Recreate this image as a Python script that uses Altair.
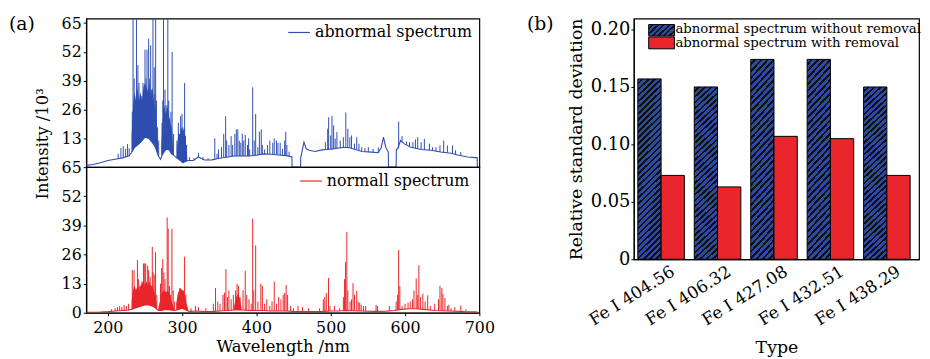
import altair as alt
import pandas as pd

# ---------------- panel (a) data (wavelength nm, intensity 10^3) ----------------
wave_ticks = [200, 300, 400, 500, 600, 700]
int_ticks_top = [13, 26, 39, 52, 65]
int_ticks_bottom = [0, 13, 26, 39, 52, 65]

abn_baseline = [
    (171, 0.8), (180, 1.2), (190, 2.0), (200, 3.0), (210, 3.6), (220, 4.2), (228, 5.0),
    (232, 6.5), (236, 9), (240, 10), (245, 11.5), (250, 13.5), (255, 13), (260, 11),
    (264, 9), (268, 5), (271, 3.5), (274, 6), (278, 8), (282, 8), (286, 6), (290, 5),
    (294, 4), (298, 3), (301, 2), (304, 2.5), (308, 3), (315, 3), (322, 4.6), (330, 3.2),
    (340, 3.3), (350, 4), (360, 4.5), (370, 5), (380, 5), (390, 5), (400, 5.4), (410, 6),
    (420, 5.8), (430, 5.5), (440, 5.2), (447.8, 4.6), (448, 0), (459.4, 0), (459.6, 4.2),
    (464, 11.3), (467, 8.3), (471, 7.6), (479, 7.1), (488, 7.8), (495, 8), (505, 8.3),
    (515, 8.9), (524, 8.9), (530, 8.3), (542, 7.1), (555, 6.8), (564, 6.5), (568, 8.9),
    (571, 13.5), (574, 9), (577.5, 6.8), (577.8, 0), (588, 0), (588.3, 8), (590, 8.3),
    (594, 12), (599, 10.5), (608, 9), (622, 8), (635, 7.6), (648, 6.8), (662, 6.3),
    (671, 5.5), (684, 4.6), (695, 4.3), (697, 4.3), (697.3, 0), (700, 0),
]

abn_bands = [
    (1, 232, 6.5, 14), (1, 234, 8, 28), (1, 236, 9, 34), (1, 238, 9.5, 30), (1, 240, 10, 36),
    (1, 242, 10.5, 30), (1, 244, 11, 34), (1, 246, 12, 30), (1, 248, 13, 36), (1, 250, 13.5, 38),
    (1, 252, 13.5, 36), (1, 254, 13, 34), (1, 256, 13, 38), (1, 258, 12, 32), (1, 260, 11, 36),
    (1, 262, 10.5, 30), (1, 264, 9, 26), (1, 266, 7, 16), (1, 268, 5, 8),
    (2, 272, 5, 10), (2, 274, 6, 22), (2, 276, 7, 28), (2, 278, 8, 24), (2, 280, 8, 28),
    (2, 282, 8, 24), (2, 284, 7, 20), (2, 286, 6, 18), (2, 288, 5.5, 8),
    (3, 293, 4, 8), (3, 295, 3.5, 16), (3, 297, 3, 14), (3, 299, 2.5, 18), (3, 301, 2, 16),
    (3, 303, 2.3, 18), (3, 305, 2.6, 12), (3, 307, 3, 4),
]

abn_peaks = [
    (214, 3.9, 6), (217.7, 4.2, 8.6), (220.8, 4.3, 9.5), (224, 4.6, 8.3), (226.6, 4.8, 10.4),
    (228.8, 5, 8.5),
    (233, 7, 25), (234, 8, 70), (235.5, 8.5, 40), (237, 9, 30), (238.6, 9.5, 70), (240.5, 10, 46),
    (242, 10.5, 38), (243.5, 11, 30), (245, 11.5, 32), (246, 12, 28), (247.4, 12.5, 38),
    (249, 13, 30), (250.1, 13.5, 53), (251.5, 13.5, 40), (252.8, 13.5, 53), (254, 13, 35),
    (255, 13, 58), (256.4, 13, 40), (257.7, 12.5, 55), (259, 12, 35), (260.8, 11, 70),
    (262.5, 10.5, 45), (263.5, 10, 33), (264.4, 9, 70), (265.5, 8, 30), (267, 6, 18),
    (268.5, 5, 12),
    (273, 5.5, 20), (274, 6, 30), (275, 6.5, 70), (277, 7.5, 35), (278.5, 8, 28), (280.8, 8, 70),
    (282, 8, 30), (283.5, 7.5, 22), (285, 6.5, 25), (286.6, 6, 52), (288.5, 5.5, 15),
    (293, 4, 12), (295, 3.5, 20), (296.5, 3.2, 15), (298, 3, 23), (299.9, 2.5, 24), (301, 2, 18),
    (303.4, 2.3, 38), (304.5, 2.5, 14), (306, 3, 10),
    (310, 3, 4.5), (316, 3, 4), (322, 4.6, 6.5), (328, 3.5, 4.5), (335, 3.2, 4),
    (344, 3.5, 13), (347, 3.8, 6), (349, 4, 8), (353, 4.2, 9), (356, 4.4, 15), (358.6, 4.5, 23),
    (360, 4.5, 12), (363, 4.7, 10), (366, 4.8, 14), (368, 4.9, 10), (371, 5, 15), (373, 5, 17),
    (375, 5, 17), (377, 5, 12), (379, 5, 11), (381, 5, 15), (383, 5, 12), (385, 5, 14.6),
    (388, 5, 10), (389.5, 5, 13), (391, 5, 8), (395, 5.2, 36), (397, 5.2, 12), (399, 5.3, 24),
    (402, 5.4, 9), (404, 5.5, 16), (406.5, 5.6, 17), (408, 5.7, 10), (411, 5.9, 8), (415, 6, 10),
    (418, 6, 12), (422, 5.9, 11), (424, 5.8, 13), (427, 5.7, 12), (429, 5.6, 11), (432, 5.4, 11),
    (435, 5.3, 8.3), (438, 5.2, 12), (439.5, 5.2, 16), (441, 5.1, 10), (444, 4.8, 7),
    (492.8, 7.9, 11.3), (495.9, 8, 17.3), (497.2, 8, 22.5), (500, 8, 14.3), (501.7, 8, 23.2),
    (503.9, 8.1, 18.8), (506, 8.2, 12.8), (508.3, 8.3, 15.8), (512.8, 8.5, 12), (517, 8.7, 13.5),
    (520.3, 8.9, 24.7), (523, 8.9, 17.3), (525.7, 8.7, 13.5), (528, 8.5, 14.3), (532, 8.2, 10.6),
    (535, 8, 13.5), (538, 7.6, 10.6), (541.7, 7.2, 9), (546, 7, 8.6), (550.6, 6.9, 9),
    (557, 6.8, 8.3), (564, 6.5, 9),
    (591.4, 8.5, 20.5), (596, 11.5, 14), (602, 10, 11.6), (606, 9.2, 11.3), (610.6, 8.8, 11.3),
    (614, 8.5, 12.5), (617, 8.3, 13.5), (621.7, 8, 11.3), (626, 7.8, 12.8), (632.8, 7.6, 10.6),
    (637, 7.4, 9), (641.7, 7.1, 9), (647, 6.8, 9.8), (652, 6.6, 12), (657, 6.5, 9.8),
    (663.9, 6.2, 9.8), (668, 5.8, 7.6), (675, 5.2, 6.8),
]

nor_baseline = [
    (171, 0.2), (190, 0.3), (200, 0.5), (210, 0.8), (220, 1.0), (228, 1.2), (232, 1.5),
    (236, 2), (240, 2.5), (245, 3), (250, 3.5), (255, 3.5), (260, 3), (265, 2), (268, 1),
    (272, 1), (278, 1.5), (284, 1.2), (290, 1), (295, 1.5), (300, 2), (305, 1.2), (310, 0.6),
    (320, 0.8), (330, 0.5), (340, 0.5), (350, 0.8), (360, 1), (370, 1.2), (380, 1.2), (390, 1),
    (400, 1), (410, 1), (420, 0.8), (430, 0.8), (440, 0.8), (450, 0.6), (470, 0.5), (490, 0.6),
    (500, 0.8), (510, 0.8), (520, 1), (530, 0.9), (540, 0.8), (560, 0.6), (575, 0.7), (585, 1),
    (595, 1.5), (605, 1.8), (615, 1.8), (625, 1.5), (640, 1), (660, 0.8), (680, 0.5),
    (696, 0.4), (697, 0), (700, 0),
]

nor_bands = [
    (1, 232, 1.5, 5), (1, 234, 1.8, 10), (1, 236, 2, 12), (1, 238, 2.2, 10), (1, 240, 2.5, 12),
    (1, 242, 2.7, 10), (1, 244, 2.9, 12), (1, 246, 3, 13), (1, 248, 3.2, 14), (1, 250, 3.5, 12),
    (1, 252, 3.5, 14), (1, 254, 3.5, 12), (1, 256, 3.5, 14), (1, 258, 3.2, 12), (1, 260, 3, 12),
    (1, 262, 2.6, 10), (1, 264, 2.2, 8), (1, 266, 1.8, 4),
    (2, 268, 1, 2), (2, 270, 1, 5), (2, 272, 1, 8), (2, 275, 1.2, 10), (2, 278, 1.5, 9),
    (2, 281, 1.4, 10), (2, 284, 1.2, 7), (2, 287, 1.1, 4), (2, 289, 1, 2),
    (3, 292, 1.2, 4), (3, 294, 1.4, 8), (3, 296, 1.6, 10), (3, 298, 1.8, 11), (3, 300, 2, 10),
    (3, 302, 1.7, 10), (3, 304, 1.4, 8), (3, 306, 1.1, 4), (3, 308, 0.8, 2),
    (4, 370, 1.2, 3), (4, 372, 1.2, 6), (4, 374, 1.2, 8), (4, 376, 1.2, 8), (4, 378, 1.2, 6),
    (4, 380, 1.2, 2),
]

nor_peaks = [
    (205, 0.6, 1.5), (210, 0.8, 2), (213, 0.9, 2.5), (216, 0.9, 3), (219, 1, 2.5), (222, 1, 3.5),
    (225, 1.1, 3), (228, 1.2, 4),
    (233, 1.6, 19), (235.4, 1.9, 19), (237, 2.1, 10), (239.9, 2.5, 23.5), (241.5, 2.6, 15),
    (243, 2.8, 12), (244.5, 2.9, 9), (246, 3, 14), (248, 3.2, 22), (249.7, 3.5, 22),
    (251, 3.5, 22), (253.7, 3.5, 21), (255, 3.5, 19), (257, 3.4, 16), (259.9, 3, 29.4),
    (261, 3, 18), (262.5, 2.6, 17), (264.3, 2.2, 27), (266, 1.8, 8),
    (271, 1, 13), (272.5, 1.1, 20), (274, 1.2, 24), (275.5, 1.3, 18), (277, 1.3, 15),
    (279.9, 1.4, 42.5), (281.3, 1.4, 37.5), (283, 1.3, 12), (284.5, 1.2, 8), (286.3, 1.1, 37.5),
    (288, 1.1, 10), (290, 1, 5),
    (295, 1.5, 9), (297, 1.6, 11), (299, 1.9, 10), (301, 2, 9), (303.4, 1.6, 25), (305, 1.2, 8),
    (312, 0.6, 2), (318, 0.7, 3), (322, 0.8, 2.5), (332, 0.5, 2), (342, 0.6, 4), (345, 0.6, 11),
    (348, 0.7, 5), (351, 0.8, 4), (355, 0.9, 8), (357, 0.9, 9), (359, 1, 19.5), (361, 1, 7),
    (363, 1, 10), (366, 1.1, 6), (369, 1.1, 8), (372, 1.2, 10), (374, 1.2, 13), (376, 1.2, 12),
    (378, 1.2, 7), (382, 1.2, 10), (385, 1.1, 18.7), (387, 1.1, 8), (390, 1, 6), (393, 1, 4),
    (395, 1, 42), (396.5, 1, 10), (399, 1, 30), (402, 1, 5), (406, 1, 13), (408, 1, 12),
    (411, 1, 4), (414, 0.9, 6), (418, 0.9, 3), (421, 0.8, 5), (424, 0.8, 13.9), (427, 0.8, 4),
    (430, 0.8, 7), (433, 0.8, 6), (436, 0.8, 8), (438, 0.8, 8.8), (440, 0.8, 12.4), (442, 0.8, 8),
    (446, 0.7, 3), (450, 0.6, 2), (456, 0.6, 3), (462, 0.5, 2.5), (470, 0.5, 2), (485, 0.6, 2),
    (490, 0.6, 6), (492, 0.7, 7), (494, 0.7, 8.8), (497, 0.7, 15.5), (499, 0.8, 3), (505, 0.8, 3),
    (512, 0.9, 2), (517, 1, 7), (518.6, 1, 15), (520, 1, 22.7), (521.7, 1, 36), (523, 1, 10),
    (526, 0.95, 5), (528, 0.92, 6), (530, 0.9, 13.2), (532, 0.88, 8), (535, 0.85, 9.7),
    (537, 0.83, 5), (539, 0.8, 4.4), (541, 0.8, 3.5), (544, 0.75, 3), (547, 0.7, 3),
    (561, 0.6, 3.5), (563, 0.6, 3), (579, 0.8, 3), (588, 1.2, 5), (590, 1.3, 8), (591.4, 1.4, 28),
    (593, 1.4, 12), (596, 1.5, 3), (600, 1.6, 4), (604, 1.8, 4.5), (607, 1.8, 5), (610, 1.8, 6),
    (612, 1.8, 10), (615, 1.8, 15.3), (617, 1.7, 8), (618.6, 1.7, 21.2), (621, 1.6, 7),
    (624, 1.5, 8.5), (627, 1.4, 5), (630.5, 1.3, 7.8), (634, 1.2, 3), (640, 1, 4), (645, 0.95, 6),
    (647, 0.9, 12), (649.5, 0.9, 11), (651, 0.9, 8.5), (653.7, 0.85, 6.6), (657, 0.8, 3),
    (659, 0.8, 3.6), (662, 0.75, 2), (667, 0.7, 2.5), (675, 0.6, 3.2), (682, 0.5, 1.5),
]

# ---------------- panel (b) data ----------------
line_types = ["Fe I 404.56", "Fe I 406.32", "Fe I 427.08", "Fe I 432.51", "Fe I 438.29"]
rsd_without_removal = [0.157, 0.150, 0.174, 0.174, 0.150]
rsd_with_removal = [0.073, 0.063, 0.107, 0.105, 0.073]
rsd_ticks = [0, 0.05, 0.10, 0.15, 0.20]

# ---------------- styles ----------------
FONT = "DejaVu Serif"
BLUE = "#2f4fb0"
RED = "#e8262b"
BAR_BLUE = "#2d4aa6"
HATCH_LINE = "#111111"


def hatch(n, x2, y2, base=BAR_BLUE, line=HATCH_LINE, frac=0.58):
    stops = []
    for i in range(n):
        a, b, c = i / n, (i + frac) / n, (i + 1) / n
        stops += [
            {"offset": a, "color": base}, {"offset": b, "color": base},
            {"offset": b, "color": line}, {"offset": c, "color": line},
        ]
    return {"gradient": "linear", "x1": 0, "y1": 0, "x2": x2, "y2": y2, "stops": stops}


xscale = alt.Scale(domain=[171, 700], nice=False, zero=False)


def text_layer(txt, x, y, size, align="left", color="black"):
    return alt.Chart(pd.DataFrame({"t": [txt]})).mark_text(
        align=align, baseline="middle", fontSize=size, font=FONT, color=color
    ).encode(x=alt.value(x), y=alt.value(y), text="t:N")


def spectrum(baseline, bands, peaks, color, ymax, height, yaxis, xaxis, legend, extra=None):
    base_df = pd.DataFrame(baseline, columns=["w", "v"])
    band_df = pd.DataFrame(bands, columns=["id", "w", "lo", "hi"])
    peak_df = pd.DataFrame(peaks, columns=["w", "lo", "hi"])
    ysc = alt.Scale(domain=[0, ymax], nice=False)
    X = alt.X("w:Q", scale=xscale, axis=xaxis)
    band = alt.Chart(band_df).mark_area(color=color, opacity=1, clip=True).encode(
        x=X, y=alt.Y("lo:Q", scale=ysc, axis=yaxis), y2="hi:Q", detail="id:N")
    rules = alt.Chart(peak_df).mark_rule(color=color, strokeWidth=1, clip=True).encode(
        x=X, y=alt.Y("lo:Q", scale=ysc, axis=yaxis), y2="hi:Q")
    line = alt.Chart(base_df).mark_line(color=color, strokeWidth=1.1, clip=True).encode(
        x=X, y=alt.Y("v:Q", scale=ysc, axis=yaxis))
    leg_line = alt.Chart(pd.DataFrame({"k": [0]})).mark_rule(color=color, strokeWidth=1.2).encode(
        x=alt.value(legend[1]), x2=alt.value(legend[1] + 22), y=alt.value(14))
    leg_txt = text_layer(legend[0], legend[1] + 27, 14, 16)
    layers = [band, rules, line, leg_line, leg_txt]
    if extra is not None:
        layers.append(extra)
    return alt.layer(*layers).properties(width=397, height=height)


top_yaxis = alt.Axis(values=int_ticks_top, title="Intensity /10³", titleX=-44, titleY=126,
                     titleAngle=270, titleAlign="center", titleBaseline="middle",
                     titleFontSize=16.5, labelFontSize=16, tickSize=3, labelPadding=2)
bottom_yaxis = alt.Axis(values=int_ticks_bottom, title=None, labelFontSize=16, tickSize=3,
                        labelPadding=2)
bottom_xaxis = alt.Axis(values=wave_ticks, title="Wavelength /nm", format="d", labelFontSize=16,
                        titleFontSize=16.5, tickSize=3, labelPadding=4, titlePadding=3)

top = spectrum(abn_baseline, abn_bands, abn_peaks, BLUE, 67, 150, top_yaxis, None,
               ("abnormal spectrum", 204), extra=text_layer("(a)", -78, 5, 19))
bottom = spectrum(nor_baseline, nor_bands, nor_peaks, RED, 65, 147, bottom_yaxis, bottom_xaxis,
                  ("normall spectrum", 216))
panel_a = alt.vconcat(top, bottom, spacing=0, bounds="flush")

# ---------------- panel (b) ----------------
bar_df = pd.DataFrame(
    [{"type": t, "series": "without", "value": v} for t, v in zip(line_types, rsd_without_removal)]
    + [{"type": t, "series": "with", "value": v} for t, v in zip(line_types, rsd_with_removal)]
)
Xb = alt.X("type:N", sort=line_types,
           scale=alt.Scale(domain=line_types, paddingInner=0.175, paddingOuter=0.114, align=0.31),
           axis=alt.Axis(title="Type", labelAngle=-32, labelAlign="right", labelBaseline="top",
                         labelOffset=8, labelFontSize=17, titleFontSize=17.5, tickSize=0,
                         labelPadding=4, titlePadding=11))
XOb = alt.XOffset("series:N", sort=["without", "with"],
                  scale=alt.Scale(domain=["without", "with"], paddingInner=0, paddingOuter=0))
Yb = alt.Y("value:Q", scale=alt.Scale(domain=[0, 0.2095], nice=False),
           axis=alt.Axis(values=rsd_ticks, title="Relative standard deviation",
                         labelExpr="datum.value == 0 ? '0' : format(datum.value, '.2f')",
                         labelFontSize=18, titleFontSize=17.5, tickSize=3, labelPadding=1,
                         titlePadding=5))

bars_blue = alt.Chart(bar_df).transform_filter("datum.series == 'without'").mark_bar(
    fill=hatch(34, 0.14, 1.12), stroke="black", strokeWidth=1).encode(x=Xb, xOffset=XOb, y=Yb)
bars_red = alt.Chart(bar_df).transform_filter("datum.series == 'with'").mark_bar(
    fill=RED, stroke="black", strokeWidth=1).encode(x=Xb, xOffset=XOb, y=Yb)

leg_rect1 = alt.Chart(pd.DataFrame({"k": [0]})).mark_rect(
    fill=hatch(7, 1.25, 0.58), stroke="black", strokeWidth=1).encode(
    x=alt.value(15), x2=alt.value(41), y=alt.value(6), y2=alt.value(17.5))
leg_rect2 = alt.Chart(pd.DataFrame({"k": [0]})).mark_rect(
    fill=RED, stroke="black", strokeWidth=1).encode(
    x=alt.value(15), x2=alt.value(41), y=alt.value(18.5), y2=alt.value(30.5))

panel_b = alt.layer(
    bars_blue, bars_red, leg_rect1, leg_rect2,
    text_layer("abnormal spectrum without removal", 42, 10.5, 13.4),
    text_layer("abnormal spectrum with removal", 42, 24.5, 13.4),
    text_layer("(b)", -108, 5, 19),
).properties(width=288, height=243)

chart = alt.hconcat(panel_a, panel_b, spacing=31).properties(
    padding={"left": 0, "top": 4, "right": 0, "bottom": 0}
).configure(font=FONT).configure_axis(
    labelFont=FONT, titleFont=FONT, labelColor="black", titleColor="black",
    titleFontWeight="normal", domainColor="black", tickColor="black", grid=False,
    domainWidth=1.2, labelFlush=False,
).configure_view(stroke="black", strokeWidth=1.2)

chart.save("out.html", embed_options={"renderer": "svg", "actions": False})
